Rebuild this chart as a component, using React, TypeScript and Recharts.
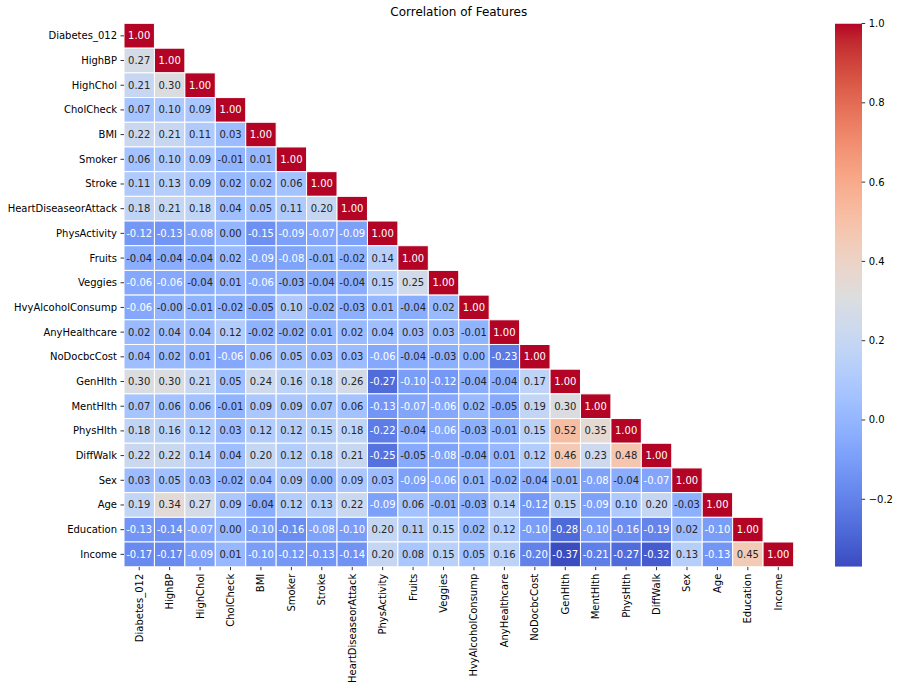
import React from "react";
import {
  ScatterChart,
  Scatter,
  XAxis,
  YAxis,
  BarChart,
  Bar,
} from "recharts";

const features = [
  "Diabetes_012", "HighBP", "HighChol", "CholCheck", "BMI", "Smoker", "Stroke",
  "HeartDiseaseorAttack", "PhysActivity", "Fruits", "Veggies", "HvyAlcoholConsump",
  "AnyHealthcare", "NoDocbcCost", "GenHlth", "MentHlth", "PhysHlth", "DiffWalk",
  "Sex", "Age", "Education", "Income",
];

// Lower-triangle rows of the correlation matrix (row i has i+1 values)
const corrRows: number[][] = [
  [1.0],
  [0.27, 1.0],
  [0.21, 0.30, 1.0],
  [0.07, 0.10, 0.09, 1.0],
  [0.22, 0.21, 0.11, 0.03, 1.0],
  [0.06, 0.10, 0.09, -0.01, 0.01, 1.0],
  [0.11, 0.13, 0.09, 0.02, 0.02, 0.06, 1.0],
  [0.18, 0.21, 0.18, 0.04, 0.05, 0.11, 0.20, 1.0],
  [-0.12, -0.13, -0.08, 0.00, -0.15, -0.09, -0.07, -0.09, 1.0],
  [-0.04, -0.04, -0.04, 0.02, -0.09, -0.08, -0.01, -0.02, 0.14, 1.0],
  [-0.06, -0.06, -0.04, 0.01, -0.06, -0.03, -0.04, -0.04, 0.15, 0.25, 1.0],
  [-0.06, -0.004, -0.01, -0.02, -0.05, 0.10, -0.02, -0.03, 0.01, -0.04, 0.02, 1.0],
  [0.02, 0.04, 0.04, 0.12, -0.02, -0.02, 0.01, 0.02, 0.04, 0.03, 0.03, -0.01, 1.0],
  [0.04, 0.02, 0.01, -0.06, 0.06, 0.05, 0.03, 0.03, -0.06, -0.04, -0.03, 0.00, -0.23, 1.0],
  [0.30, 0.30, 0.21, 0.05, 0.24, 0.16, 0.18, 0.26, -0.27, -0.10, -0.12, -0.04, -0.04, 0.17, 1.0],
  [0.07, 0.06, 0.06, -0.01, 0.09, 0.09, 0.07, 0.06, -0.13, -0.07, -0.06, 0.02, -0.05, 0.19, 0.30, 1.0],
  [0.18, 0.16, 0.12, 0.03, 0.12, 0.12, 0.15, 0.18, -0.22, -0.04, -0.06, -0.03, -0.01, 0.15, 0.52, 0.35, 1.0],
  [0.22, 0.22, 0.14, 0.04, 0.20, 0.12, 0.18, 0.21, -0.25, -0.05, -0.08, -0.04, 0.01, 0.12, 0.46, 0.23, 0.48, 1.0],
  [0.03, 0.05, 0.03, -0.02, 0.04, 0.09, 0.00, 0.09, 0.03, -0.09, -0.06, 0.01, -0.02, -0.04, -0.01, -0.08, -0.04, -0.07, 1.0],
  [0.19, 0.34, 0.27, 0.09, -0.04, 0.12, 0.13, 0.22, -0.09, 0.06, -0.01, -0.03, 0.14, -0.12, 0.15, -0.09, 0.10, 0.20, -0.03, 1.0],
  [-0.13, -0.14, -0.07, 0.00, -0.10, -0.16, -0.08, -0.10, 0.20, 0.11, 0.15, 0.02, 0.12, -0.10, -0.28, -0.10, -0.16, -0.19, 0.02, -0.10, 1.0],
  [-0.17, -0.17, -0.09, 0.01, -0.10, -0.12, -0.13, -0.14, 0.20, 0.08, 0.15, 0.05, 0.16, -0.20, -0.37, -0.21, -0.27, -0.32, 0.13, -0.13, 0.45, 1.0],
];

const colorbarTicks = [-0.2, 0.0, 0.2, 0.4, 0.6, 0.8, 1.0];

// coolwarm colormap table (33 entries)
const coolwarm: number[][] = [
  [59, 76, 192], [68, 90, 204], [77, 104, 215], [87, 117, 225], [98, 130, 234],
  [108, 142, 241], [119, 154, 247], [130, 165, 251], [141, 176, 254], [152, 185, 255],
  [163, 194, 255], [174, 201, 253], [184, 208, 249], [194, 213, 244], [204, 217, 238],
  [213, 219, 230], [221, 221, 221], [229, 216, 209], [236, 211, 197], [241, 204, 185],
  [245, 196, 173], [247, 187, 160], [247, 177, 148], [247, 166, 135], [244, 154, 123],
  [241, 141, 111], [236, 127, 99], [229, 112, 88], [222, 96, 77], [213, 80, 66],
  [203, 62, 56], [192, 40, 47], [180, 4, 38],
];

const allValues = corrRows.flat();
const vmin = Math.min(...allValues);
const vmax = Math.max(...allValues);

function cmapRGB(t: number): number[] {
  const tt = Math.max(0, Math.min(1, t)) * (coolwarm.length - 1);
  const i = Math.min(coolwarm.length - 2, Math.floor(tt));
  const f = tt - i;
  const a = coolwarm[i];
  const b = coolwarm[i + 1];
  return [0, 1, 2].map((k) => a[k] + (b[k] - a[k]) * f);
}
function rgbStr(c: number[]) {
  return `rgb(${Math.round(c[0])},${Math.round(c[1])},${Math.round(c[2])})`;
}
function valueColor(v: number) {
  return cmapRGB((v - vmin) / (vmax - vmin));
}
function luminance(c: number[]) {
  const lin = c.map((x) => {
    const s = x / 255;
    return s <= 0.03928 ? s / 12.92 : Math.pow((s + 0.055) / 1.055, 2.4);
  });
  return 0.2126 * lin[0] + 0.7152 * lin[1] + 0.0722 * lin[2];
}

const cells = corrRows.flatMap((row, i) =>
  row.map((v, j) => ({ x: j, y: i, v }))
);

const W = 900;
const H = 690;
const M = { top: 23.5, right: 106.5, bottom: 0, left: 0 };
const Y_AXIS_W = 124;
const X_AXIS_H = 123.3;
const plotW = W - M.left - M.right - Y_AXIS_W;
const plotH = H - M.top - M.bottom - X_AXIS_H;
const n = features.length;
const cw = plotW / n;
const ch = plotH / n;
const FONT = "DejaVu Sans, Liberation Sans, sans-serif";
const idx = features.map((_, i) => i);

const CellShape = (props: any) => {
  const { cx, cy, payload } = props;
  const c = valueColor(payload.v);
  const txt = luminance(c) > 0.408 ? "#262626" : "#ffffff";
  return (
    <g>
      <rect
        x={cx - cw / 2}
        y={cy - ch / 2}
        width={cw}
        height={ch}
        fill={rgbStr(c)}
        stroke="#ffffff"
        strokeWidth={1}
      />
      <text
        x={cx}
        y={cy}
        textAnchor="middle"
        dominantBaseline="central"
        fontSize={10}
        fontFamily={FONT}
        fill={txt}
      >
        {payload.v.toFixed(2)}
      </text>
    </g>
  );
};

const XTick = (props: any) => {
  const { x, y, payload } = props;
  return (
    <text
      x={x}
      y={y}
      transform={`rotate(-90, ${x}, ${y})`}
      textAnchor="end"
      dominantBaseline="central"
      fontSize={10}
      fontFamily={FONT}
      fill="#000"
    >
      {features[payload.value]}
    </text>
  );
};

const YTick = (props: any) => {
  const { x, y, payload } = props;
  return (
    <text
      x={x}
      y={y}
      textAnchor="end"
      dominantBaseline="central"
      fontSize={10}
      fontFamily={FONT}
      fill="#000"
    >
      {features[payload.value]}
    </text>
  );
};

const CbTick = (props: any) => {
  const { x, y, payload } = props;
  const v = payload.value as number;
  const label = v < -1e-9 ? "\u2212" + Math.abs(v).toFixed(1) : Math.abs(v).toFixed(1);
  return (
    <text
      x={x}
      y={y}
      textAnchor="start"
      dominantBaseline="central"
      fontSize={10}
      fontFamily={FONT}
      fill="#000"
    >
      {label}
    </text>
  );
};

const gradStops = Array.from({ length: 33 }, (_, k) => k / 32);
const colorbarData = [{ name: "cb", range: [vmin, vmax] }];

export default function App() {
  return (
    <div
      style={{
        position: "absolute",
        left: 0,
        top: 0,
        width: W,
        height: H,
        background: "#fff",
      }}
    >
      <div
        style={{
          position: "absolute",
          left: M.left + Y_AXIS_W,
          width: plotW,
          top: 5,
          textAlign: "center",
          fontFamily: FONT,
          fontSize: 12,
          color: "#000",
          lineHeight: "14px",
        }}
      >
        Correlation of Features
      </div>
      <div style={{ position: "absolute", left: 0, top: 0 }}>
        <ScatterChart width={W} height={H} margin={M}>
          <XAxis
            type="number"
            dataKey="x"
            domain={[-0.5, n - 0.5]}
            ticks={idx}
            interval={0}
            allowDataOverflow
            height={X_AXIS_H}
            axisLine={false}
            tickSize={3.5}
            tickMargin={3.5}
            tickLine={{ stroke: "#000", strokeWidth: 0.8 }}
            tick={<XTick />}
          />
          <YAxis
            type="number"
            dataKey="y"
            domain={[-0.5, n - 0.5]}
            ticks={idx}
            interval={0}
            reversed
            allowDataOverflow
            width={Y_AXIS_W}
            axisLine={false}
            tickSize={3.5}
            tickMargin={3.5}
            tickLine={{ stroke: "#000", strokeWidth: 0.8 }}
            tick={<YTick />}
          />
          <Scatter data={cells} shape={CellShape} isAnimationActive={false} />
        </ScatterChart>
      </div>
      <div style={{ position: "absolute", left: 800, top: 0 }}>
        <BarChart
          width={100}
          height={H}
          data={colorbarData}
          margin={{ top: M.top, right: 0, bottom: H - M.top - plotH, left: 35 }}
          barCategoryGap={0}
        >
          <defs>
            <linearGradient id="cbGrad" x1="0" y1="0" x2="0" y2="1">
              {gradStops.map((k) => (
                <stop key={k} offset={k} stopColor={rgbStr(cmapRGB(1 - k))} />
              ))}
            </linearGradient>
          </defs>
          <XAxis dataKey="name" type="category" hide />
          <YAxis
            orientation="right"
            type="number"
            domain={[vmin, vmax]}
            ticks={colorbarTicks}
            interval={0}
            allowDataOverflow
            width={100 - 35 - 26.7}
            axisLine={false}
            tickSize={3.5}
            tickMargin={3.5}
            tickLine={{ stroke: "#000", strokeWidth: 0.8 }}
            tick={<CbTick />}
          />
          <Bar dataKey="range" fill="url(#cbGrad)" isAnimationActive={false} />
        </BarChart>
      </div>
    </div>
  );
}
